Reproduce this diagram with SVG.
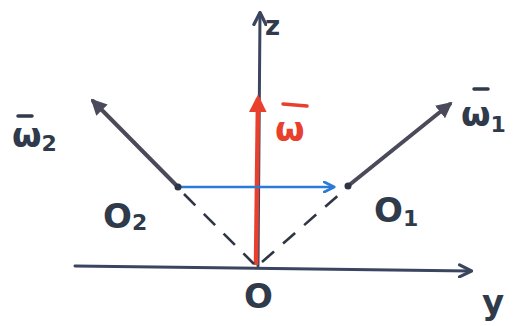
<svg xmlns="http://www.w3.org/2000/svg" width="526" height="326" viewBox="0 0 526 326">
<defs>
<marker id="ah" viewBox="0 0 10 10" refX="8" refY="5" markerWidth="5" markerHeight="5" orient="auto" markerUnits="strokeWidth">
<path d="M1,1 L9,5 L1,9" fill="none" stroke="context-stroke" stroke-width="2.2" stroke-linecap="round" stroke-linejoin="round"/>
</marker>
<marker id="ahf" viewBox="0 0 10 10" refX="8" refY="5" markerWidth="4" markerHeight="4" orient="auto" markerUnits="strokeWidth">
<path d="M0,0 L10,5 L0,10 Z" fill="context-stroke"/>
</marker>
</defs>
<style>
.ax{stroke:#3a4560;stroke-width:3;fill:none;stroke-linecap:round}
.w{stroke:#4a4a5a;stroke-width:4;fill:none;stroke-linecap:round}
.d{stroke:#2f3545;stroke-width:2.6;fill:none;stroke-dasharray:16 12}
.lbl{font-family:"DejaVu Sans",sans-serif;fill:#2f3a4a;font-size:34px;font-weight:bold}
.sub{font-family:"DejaVu Sans",sans-serif;fill:#2f3a4a;font-size:22px;font-weight:bold}
.red{fill:#e8402c}
</style>
<g id="connectors">
<line class="ax" x1="75" y1="266" x2="470" y2="271" marker-end="url(#ah)"/>
<line class="ax" x1="258" y1="266" x2="260" y2="14" marker-end="url(#ah)"/>
<line x1="256" y1="265" x2="258" y2="98" stroke="#e8402c" stroke-width="4.5" marker-end="url(#ahf)"/>
<line class="w" x1="178" y1="187" x2="93" y2="101" marker-end="url(#ahf)"/>
<line class="w" x1="348" y1="186" x2="450" y2="104" stroke="#45507a" marker-end="url(#ahf)"/>
<line x1="181" y1="187" x2="333" y2="187" stroke="#2a7ad8" stroke-width="2.5" marker-end="url(#ah)"/>
<line class="d" x1="184" y1="194" x2="254" y2="264"/>
<line class="d" x1="262" y1="262" x2="342" y2="192"/>
<circle cx="178" cy="187" r="3.5" fill="#2f3545"/>
<circle cx="348" cy="186" r="3.5" fill="#2f3545"/>
</g>
<g id="z"><text class="lbl" x="265" y="35" style="font-size:26px">z</text></g>
<g id="y"><text class="lbl" x="482" y="314">y</text></g>
<g id="O"><text class="lbl" x="244" y="308">O</text></g>
<g id="omega">
<line x1="283" y1="104" x2="307" y2="106" stroke="#e8402c" stroke-width="3.5" stroke-linecap="round"/>
<text class="lbl red" x="275" y="141">ω</text>
</g>
<g id="omega2">
<line x1="18" y1="116" x2="32" y2="116" stroke="#2f3a4a" stroke-width="3.5" stroke-linecap="round"/>
<text class="lbl" x="12" y="147">ω<tspan class="sub" dy="4">2</tspan></text>
</g>
<g id="omega1">
<line x1="474" y1="89" x2="488" y2="89" stroke="#2f3a4a" stroke-width="3.5" stroke-linecap="round"/>
<text class="lbl" x="461" y="126">ω<tspan class="sub" dy="6">1</tspan></text>
</g>
<g id="O2"><text class="lbl" x="103" y="228">O<tspan class="sub" dy="2">2</tspan></text></g>
<g id="O1"><text class="lbl" x="374" y="222">O<tspan class="sub" dy="4">1</tspan></text></g>
</svg>
